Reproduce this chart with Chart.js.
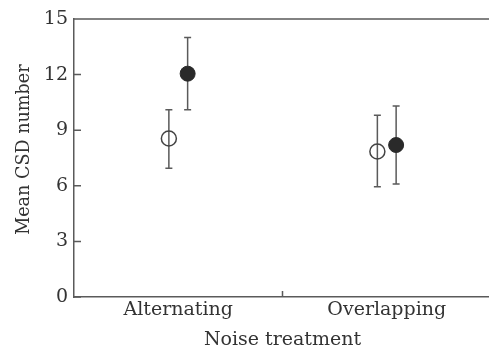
<!DOCTYPE html>
<html>
<head>
<meta charset="utf-8">
<script src="https://cdn.jsdelivr.net/npm/chart.js@4/dist/chart.umd.min.js"></script>
<style>
html,body{margin:0;padding:0;background:#fff;overflow:hidden;}
#wrap{width:500px;height:358px;}
</style>
</head>
<body>
<div id="wrap"><canvas id="c" width="500" height="358"></canvas></div>
<script>
// ---- data ----
const categories = ['Alternating', 'Overlapping'];
const openMean  = [8.55, 7.85];
const openLow   = [6.95, 5.95];
const openHigh  = [10.1, 9.8];
const filledMean = [12.05, 8.2];
const filledLow  = [10.1, 6.1];
const filledHigh = [14.0, 10.3];
const yTicks = [0, 3, 6, 9, 12, 15];

// ---- style ----
const OFFSET = 0.045;
const AXIS = '#5a5a5a';
const TEXT = '#333333';
const FONT = 'DejaVu Serif';

function pts(means, lows, highs, dx) {
  return means.map((m, i) => ({x: i + 0.5 + dx, y: m, lo: lows[i], hi: highs[i]}));
}

const errorBars = {
  id: 'errorBars',
  beforeDatasetsDraw(chart) {
    const ctx = chart.ctx, xs = chart.scales.x, ys = chart.scales.y;
    ctx.save();
    ctx.strokeStyle = AXIS;
    ctx.lineWidth = 1.5;
    chart.data.datasets.forEach(ds => {
      ds.data.forEach(p => {
        const x = xs.getPixelForValue(p.x);
        const y1 = ys.getPixelForValue(p.lo), y2 = ys.getPixelForValue(p.hi);
        ctx.beginPath();
        ctx.moveTo(x, y1); ctx.lineTo(x, y2);
        ctx.moveTo(x - 3.5, y1); ctx.lineTo(x + 3.5, y1);
        ctx.moveTo(x - 3.5, y2); ctx.lineTo(x + 3.5, y2);
        ctx.stroke();
      });
    });
    ctx.restore();
  }
};

const frame = {
  id: 'frame',
  afterDraw(chart) {
    const ctx = chart.ctx, a = chart.chartArea, xs = chart.scales.x, ys = chart.scales.y;
    ctx.save();
    ctx.strokeStyle = AXIS;
    ctx.lineWidth = 1.5;
    ctx.beginPath();
    ctx.moveTo(a.left, a.top); ctx.lineTo(chart.width, a.top);
    yTicks.forEach(v => {
      const y = ys.getPixelForValue(v);
      ctx.moveTo(a.left, y); ctx.lineTo(a.left + 7, y);
    });
    for (let i = 1; i < categories.length; i++) {
      const x = xs.getPixelForValue(i);
      ctx.moveTo(x, a.bottom); ctx.lineTo(x, a.bottom - 6);
    }
    ctx.stroke();
    ctx.restore();
  }
};

new Chart(document.getElementById('c'), {
  type: 'scatter',
  data: {
    datasets: [
      {
        label: 'open',
        data: pts(openMean, openLow, openHigh, -OFFSET),
        pointStyle: 'circle',
        pointRadius: 7.5,
        pointBackgroundColor: 'rgba(255,255,255,0)',
        pointBorderColor: '#444',
        pointBorderWidth: 1.5
      },
      {
        label: 'filled',
        data: pts(filledMean, filledLow, filledHigh, OFFSET),
        pointStyle: 'circle',
        pointRadius: 7.5,
        pointBackgroundColor: '#2a2a2a',
        pointBorderColor: '#2a2a2a',
        pointBorderWidth: 1
      }
    ]
  },
  options: {
    responsive: false,
    animation: false,
    layout: {padding: {left: 0, right: 6, top: 19, bottom: 0}},
    plugins: {legend: {display: false}, tooltip: {enabled: false}},
    scales: {
      x: {
        type: 'linear',
        min: 0, max: categories.length,
        afterBuildTicks(scale) {
          scale.ticks = categories.map((c, i) => ({value: i + 0.5}));
        },
        afterFit(scale) { scale.height = 61; },
        grid: {display: false, drawTicks: false},
        border: {display: true, color: AXIS, width: 1.5},
        ticks: {
          padding: 2,
          color: TEXT,
          font: {family: FONT, size: 19},
          callback: v => categories[Math.round(v - 0.5)]
        },
        title: {
          display: true,
          text: 'Noise treatment',
          color: TEXT,
          font: {family: FONT, size: 19},
          padding: {top: 0, bottom: 7}
        }
      },
      y: {
        min: 0, max: 15,
        afterBuildTicks(scale) {
          scale.ticks = yTicks.map(v => ({value: v}));
        },
        afterFit(scale) { scale.width = 74; },
        grid: {display: false, drawTicks: false},
        border: {display: true, color: AXIS, width: 1.5},
        ticks: {
          padding: 6,
          color: TEXT,
          font: {family: FONT, size: 19}
        },
        title: {
          display: true,
          text: '\u00a0\u00a0\u00a0Mean CSD number',
          color: TEXT,
          font: {family: FONT, size: 17.6},
          padding: {top: 14, bottom: 0}
        }
      }
    }
  },
  plugins: [errorBars, frame]
});
</script>
</body>
</html>
